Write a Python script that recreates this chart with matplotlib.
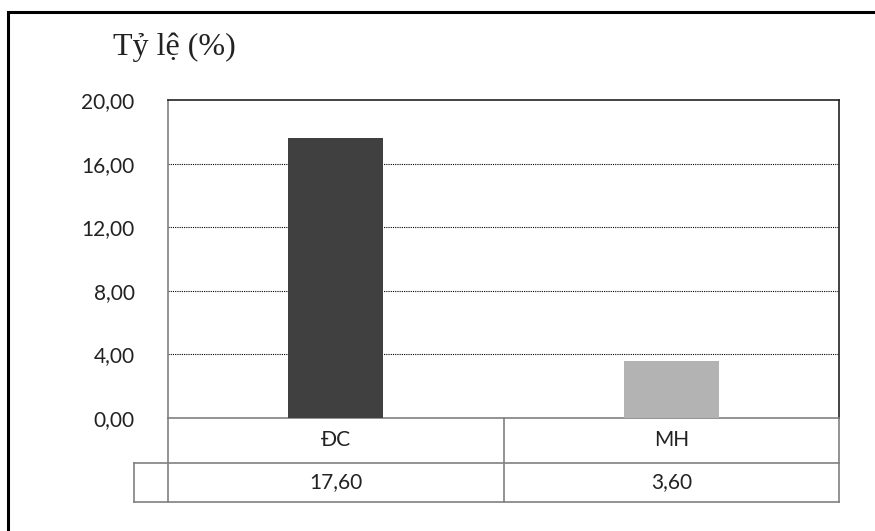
import matplotlib.pyplot as plt
from matplotlib.patches import Rectangle

# du lieu
nhom = ['ĐC', 'MH']
ty_le = [17.60, 3.60]
nhan_gia_tri = ['17,60', '3,60']
vach_y = [0, 4, 8, 12, 16, 20]
nhan_y = ['0,00', '4,00', '8,00', '12,00', '16,00', '20,00']
mau_cot = ['#404040', '#b3b3b3']

W, H = 875, 531
fig = plt.figure(figsize=(W / 100, H / 100), dpi=100)
fig.patch.set_facecolor('white')

# khung ngoai (chi thay canh trai va tren)
fig.patches.append(Rectangle((8 / W, -0.1), 1.2, (H - 12) / H + 0.1,
                             transform=fig.transFigure, fill=False,
                             edgecolor='black', linewidth=2.2))

ax = fig.add_axes([168 / W, (H - 418) / H, 671 / W, 318 / H])
x = list(range(len(nhom)))
ax.bar(x, ty_le, width=0.283, color=mau_cot, zorder=3)
ax.set_xlim(-0.5, 1.5)
ax.set_ylim(0, 20)
ax.set_yticks(vach_y)
ax.set_yticklabels(nhan_y, fontfamily='Lato', fontsize=15, color='#222222')
ax.tick_params(axis='y', length=0, pad=24)
ax.set_xticks([])
for v in vach_y[1:-1]:
    ax.axhline(v, color='black', linestyle=(0, (1, 1)), linewidth=0.8, zorder=1)

ax.spines['left'].set_color('#808080')
ax.spines['bottom'].set_color('#808080')
ax.spines['top'].set_color('#222222')
ax.spines['right'].set_color('#222222')
for s in ax.spines.values():
    s.set_linewidth(1.2)

# bang du lieu ben duoi
tr = ax.get_xaxis_transform()
y1 = (418 - 463) / 318
y2 = (418 - 502) / 318
xl = -0.5 - 34 / 671 * 2
mau_vien = '#808080'
kw = dict(transform=tr, color=mau_vien, linewidth=1.2, clip_on=False)
ax.plot([xl, 1.5], [y1, y1], **kw)
ax.plot([xl, 1.5], [y2, y2], **kw)
ax.plot([xl, xl], [y1, y2], **kw)
ax.plot([-0.5, -0.5], [0, y2], **kw)
ax.plot([0.5, 0.5], [0, y2], **kw)
ax.plot([1.5, 1.5], [0, y2], **kw)

for i, ten in enumerate(nhom):
    ax.text(i, y1 / 2, ten, transform=tr, ha='center', va='center',
            fontfamily='Lato', fontsize=15, color='#222222')
    ax.text(i, (y1 + y2) / 2, nhan_gia_tri[i], transform=tr, ha='center',
            va='center', fontfamily='Lato', fontsize=15, color='#222222')

fig.text(113 / W, 1 - 47 / H, 'Tỷ lệ (%)', ha='left', va='center',
         fontfamily=['Liberation Serif', 'DejaVu Serif'], fontsize=23,
         color='#222222')

fig.savefig('out.png', dpi=100)
